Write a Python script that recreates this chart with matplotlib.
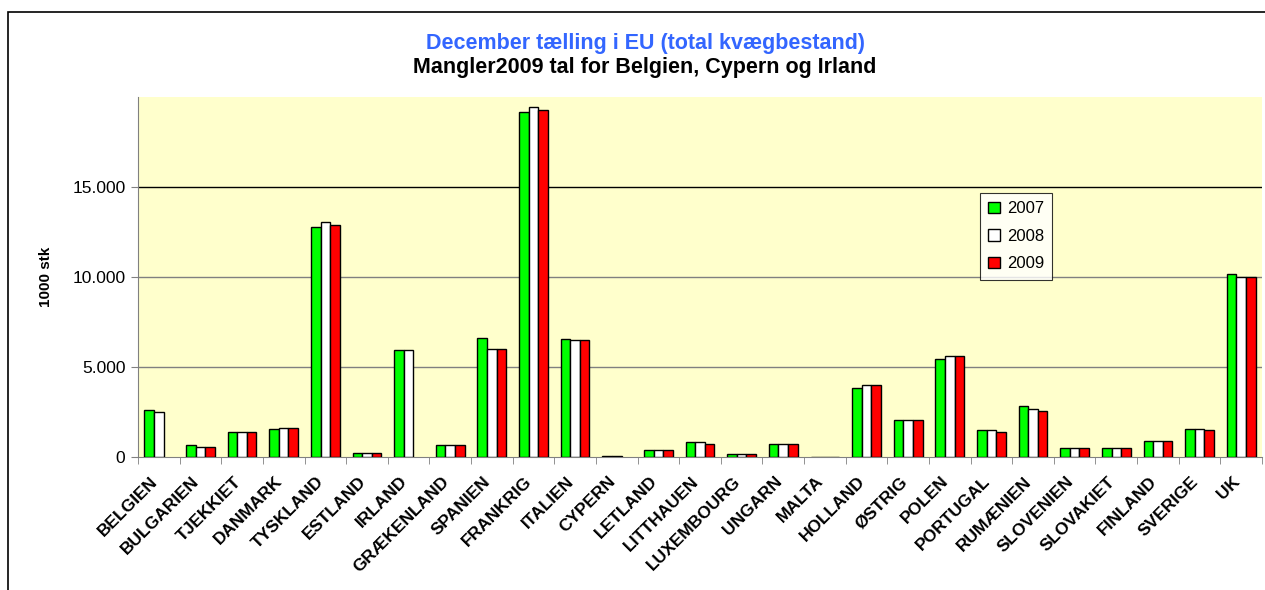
import numpy as np
import matplotlib
matplotlib.use("Agg")
import matplotlib.pyplot as plt
import matplotlib.transforms as mtransforms
from matplotlib.patches import Rectangle
from matplotlib.ticker import FuncFormatter

plt.rcParams["font.family"] = ["Liberation Sans", "DejaVu Sans"]

# Countries and herd size (1000 stk); None = missing value
countries = ["BELGIEN", "BULGARIEN", "TJEKKIET", "DANMARK", "TYSKLAND", "ESTLAND",
             "IRLAND", "GRÆKENLAND", "SPANIEN", "FRANKRIG", "ITALIEN", "CYPERN",
             "LETLAND", "LITTHAUEN", "LUXEMBOURG", "UNGARN", "MALTA", "HOLLAND",
             "ØSTRIG", "POLEN", "PORTUGAL", "RUMÆNIEN", "SLOVENIEN", "SLOVAKIET",
             "FINLAND", "SVERIGE", "UK"]
v2007 = [2600, 650, 1390, 1540, 12760, 240, 5930, 650, 6590, 19170, 6580, 60,
         400, 830, 190, 740, 16, 3820, 2030, 5440, 1480, 2860, 480, 490,
         910, 1530, 10160]
v2008 = [2490, 560, 1390, 1620, 13070, 240, 5930, 650, 6000, 19430, 6510, 60,
         400, 830, 180, 740, 16, 4000, 2030, 5590, 1480, 2690, 480, 490,
         910, 1530, 9980]
v2009 = [None, 560, 1390, 1620, 12910, 240, None, 650, 6000, 19260, 6510, None,
         400, 740, 190, 740, 16, 4000, 2030, 5590, 1380, 2530, 480, 490,
         910, 1480, 9980]
years = ["2007", "2008", "2009"]
colors = ["#00FF00", "#FFFFFF", "#FF0000"]

fig = plt.figure(figsize=(12.65, 5.9), dpi=100)
fig.patches.append(Rectangle((8 / 1265, -0.1), 1.2, 1 - 12 / 590 + 0.1,
                             transform=fig.transFigure, fill=False,
                             edgecolor="black", lw=1.2))
ax = fig.add_axes([138 / 1265, 133 / 590, 1124 / 1265, 360 / 590])
ax.set_facecolor("#FFFFCC")

x = np.arange(len(countries))
w = 0.23
for k, (vals, c, lab) in enumerate(zip([v2007, v2008, v2009], colors, years)):
    h = np.array([np.nan if v is None else v for v in vals], dtype=float)
    ax.bar(x + (k - 1) * w, h, width=w, color=c, edgecolor="black", lw=1.0,
           label=lab, zorder=3)

ax.set_xlim(-0.5, len(countries) - 0.5)
ax.set_ylim(0, 20000)
ax.set_yticks([0, 5000, 10000, 15000])
ax.yaxis.set_major_formatter(FuncFormatter(lambda v, p: f"{int(v):,}".replace(",", ".")))
for yv, gc in [(5000, "#808080"), (10000, "#808080"), (15000, "black")]:
    ax.axhline(yv, color=gc, lw=1.0, zorder=1)

ax.set_xticks(x)
ax.set_xticklabels(countries, rotation=45, ha="right", rotation_mode="anchor",
                   fontweight="bold", fontsize=12.5)
ax.set_xticks(np.arange(len(countries) + 1) - 0.5, minor=True)
ax.tick_params(axis="x", which="major", length=0, pad=7)
ax.tick_params(axis="x", which="minor", length=5, color="#808080")
ax.tick_params(axis="y", length=5, color="#808080", labelsize=12.5, pad=4)
# nudge the rotated labels, like Excel places them
shift = mtransforms.ScaledTranslation(-0.09, -0.07, fig.dpi_scale_trans)
for t in ax.get_xticklabels():
    t.set_transform(t.get_transform() + shift)

for s in ["top", "right"]:
    ax.spines[s].set_visible(False)
ax.spines["left"].set_color("#808080")
ax.spines["bottom"].set_color("#808080")

ax.set_ylabel("1000 stk", fontweight="bold", fontsize=11)
ax.yaxis.set_label_coords((53 - 138) / 1124, 0.5)

fig.text(645 / 1265, 1 - 43 / 590, "December tælling i EU (total kvægbestand)",
         ha="center", va="center", color="#3366FF", fontweight="bold", fontsize=15.5)
fig.text(645 / 1265, 1 - 68 / 590, "Mangler2009 tal for Belgien, Cypern og Irland",
         ha="center", va="center", color="black", fontweight="bold", fontsize=15.5)

leg = ax.legend(loc="upper left", bbox_to_anchor=((980 - 138) / 1124, (457 - 193) / 360),
                fontsize=12, frameon=True, fancybox=False, edgecolor="black",
                handlelength=0.7, handleheight=0.7, handletextpad=0.4,
                labelspacing=0.75, borderpad=0.5, borderaxespad=0)
leg.get_frame().set_linewidth(0.8)

fig.savefig("out.png", dpi=100)
